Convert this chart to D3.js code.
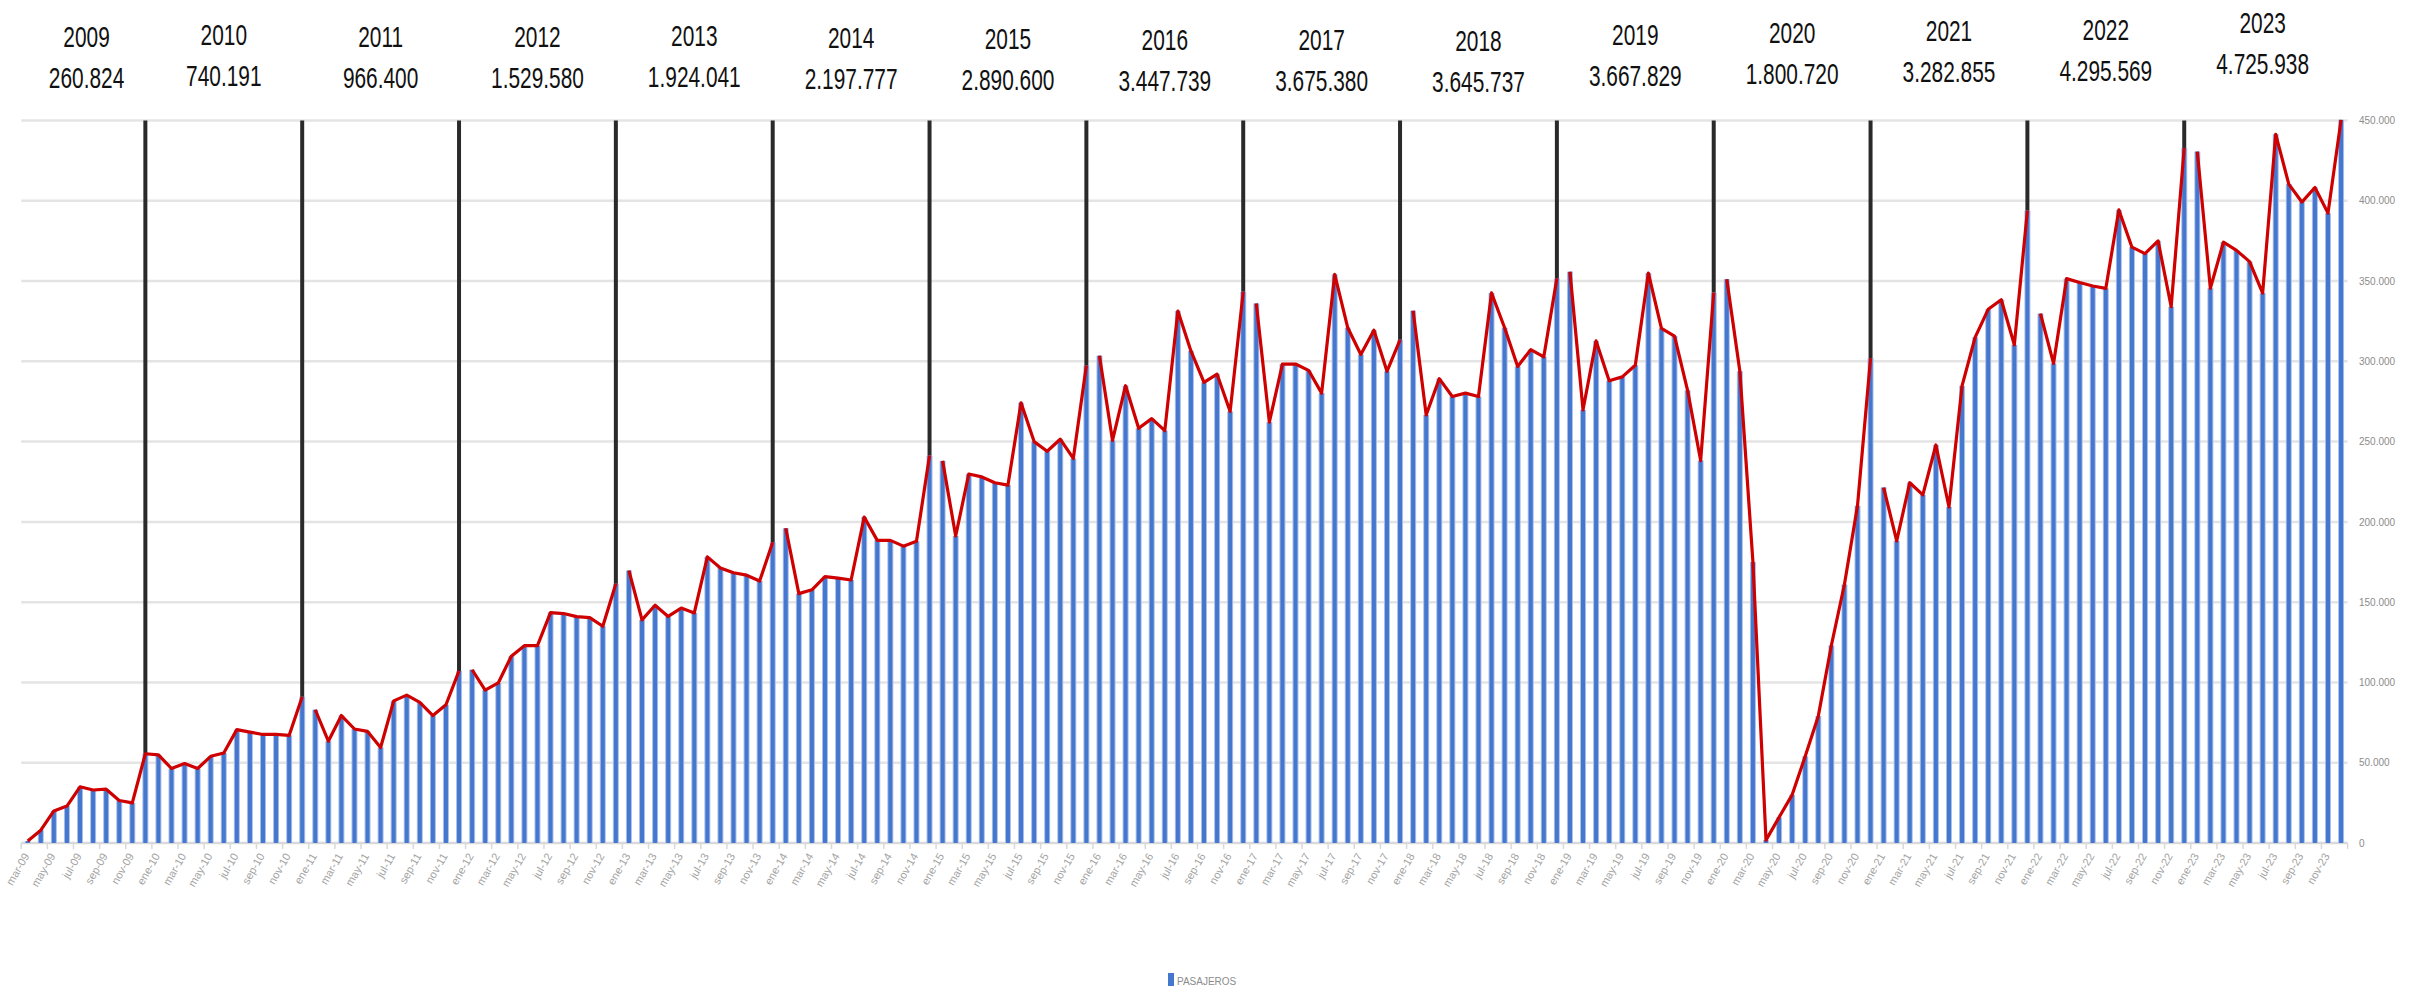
<!DOCTYPE html>
<html><head><meta charset="utf-8">
<script src="https://cdn.jsdelivr.net/npm/d3@7"></script>
<style>html,body{margin:0;padding:0;background:#fff;} svg{display:block;}</style>
</head><body>
<svg id="chart" width="2433" height="994"></svg>
<script>
// ---------------- DATA ----------------
const monthNames = ["ene","feb","mar","abr","may","jun","jul","ago","sep","oct","nov","dic"];
const years = [2009,2010,2011,2012,2013,2014,2015,2016,2017,2018,2019,2020,2021,2022,2023];
const firstMonthIndex2009 = 2; // data starts in "mar-09"
const pasajeros2009 = [1200, 8000, 20000, 23000, 35000, 33000, 33500, 26500, 25000, 55600];
const pasajeros2010 = [54900, 46400, 49500, 46400, 54000, 56100, 70600, 69100, 67600, 67600, 67000, 91100];
const pasajeros2011 = [83000, 63400, 79400, 71000, 69500, 59500, 88500, 92100, 87600, 79400, 86100, 107200];
const pasajeros2012 = [107900, 95200, 99700, 116300, 122900, 122900, 143500, 142900, 141000, 140400, 135000, 161500];
const pasajeros2013 = [169700, 139000, 148100, 141100, 146300, 143300, 178200, 171300, 168300, 166800, 163200, 187300];
const pasajeros2014 = [196000, 155300, 157700, 165900, 165000, 163800, 203000, 188500, 188500, 184900, 187900, 241300];
const pasajeros2015 = [238000, 191200, 229800, 228000, 224400, 222900, 274200, 250000, 244000, 251500, 239500, 297400];
const pasajeros2016 = [303500, 250700, 284800, 258300, 264300, 256800, 331300, 306500, 286900, 292000, 268800, 343300];
const pasajeros2017 = [336000, 262100, 298300, 298300, 294400, 280200, 354100, 320900, 304300, 319400, 293800, 313400];
const pasajeros2018 = [331500, 266600, 289200, 278100, 280200, 278100, 342600, 320900, 296800, 307300, 302800, 351700];
const pasajeros2019 = [355800, 269800, 312700, 287900, 290300, 297600, 354900, 320500, 315700, 281900, 238200, 342800];
const pasajeros2020 = [351100, 293800, 175000, 1800, 16000, 30000, 54000, 79000, 123000, 161000, 210000, 302000];
const pasajeros2021 = [221400, 188200, 224400, 216800, 247900, 209300, 284700, 314900, 332400, 338400, 310300, 393900];
const pasajeros2022 = [329700, 298700, 351500, 349100, 346900, 345400, 394300, 371100, 367100, 375000, 334000, 432900];
const pasajeros2023 = [430600, 345500, 374200, 369100, 362100, 342500, 441400, 410400, 399200, 408300, 392300, 450400];
const yearTotals = [260824, 740191, 966400, 1529580, 1924041, 2197777, 2890600, 3447739, 3675380, 3645737, 3667829, 1800720, 3282855, 4295569, 4725938];
const yTicks = [0, 50000, 100000, 150000, 200000, 250000, 300000, 350000, 400000, 450000];
const seriesName = "PASAJEROS";

// ---------------- LAYOUT ----------------
const W = 2433, H = 994;
const plotLeft = 21.2, plotRight = 2347.6, plotTop = 120.5, plotBottom = 843;
const headerYearBase = 47, headerTotalBase = 88;
const headerNudge = [0,-2,0,0,-1.5,1,1.5,3,3,4,-2,-4,-6,-7,-14];

const yearArrays = [pasajeros2009,pasajeros2010,pasajeros2011,pasajeros2012,pasajeros2013,pasajeros2014,pasajeros2015,pasajeros2016,pasajeros2017,pasajeros2018,pasajeros2019,pasajeros2020,pasajeros2021,pasajeros2022,pasajeros2023];
const data = [];
yearArrays.forEach((arr, k) => {
  const yr = years[k];
  const start = k === 0 ? firstMonthIndex2009 : 0;
  arr.forEach((v, j) => {
    const m = start + j;
    data.push({year: yr, m: m, label: monthNames[m] + "-" + String(yr).slice(2), value: v});
  });
});

const loc = d3.formatLocale({decimal: ",", thousands: ".", grouping: [3], currency: ["", ""]});
const fmt = loc.format(",d");

const svg = d3.select("#chart");
svg.append("rect").attr("width", W).attr("height", H).attr("fill", "#fff");

const x = d3.scaleBand().domain(data.map(d => d.label)).range([plotLeft, plotRight]).padding(0);
const y = d3.scaleLinear().domain([0, 450000]).range([plotBottom, plotTop]);
const step = x.step();
const cx = d => x(d.label) + step / 2;

// gridlines
svg.append("g").selectAll("line").data(yTicks).join("line")
  .attr("x1", plotLeft).attr("x2", plotRight)
  .attr("y1", d => y(d)).attr("y2", d => y(d))
  .attr("stroke", d => d === 0 ? "#d9d9d9" : "#e4e4e4").attr("stroke-width", 2.5);

// y axis labels (right)
const yAxis = d3.axisRight(y).tickValues(yTicks).tickSize(0).tickPadding(0).tickFormat(d => fmt(d));
const ya = svg.append("g").attr("transform", `translate(2359,0)`).call(yAxis);
ya.select(".domain").remove();
ya.selectAll("text").attr("font-family", "Liberation Sans, Arial, sans-serif").attr("font-size", 10).attr("fill", "#8c8c8c").attr("text-anchor", "start");

// x axis tick marks (every 2 months) + labels
const labelled = data.filter((d, i) => i % 2 === 0);
svg.append("g").selectAll("line").data(labelled.map(d => x(d.label)).concat([plotRight])).join("line")
  .attr("x1", d => d).attr("x2", d => d).attr("y1", plotBottom).attr("y2", plotBottom + 6)
  .attr("stroke", "#d9d9d9").attr("stroke-width", 1.5);
svg.append("g").selectAll("text").data(labelled).join("text")
  .attr("transform", d => `translate(${cx(d) + 2},${plotBottom + 13}) rotate(-60)`)
  .attr("text-anchor", "end")
  .attr("font-family", "Liberation Sans, Arial, sans-serif").attr("font-size", 11)
  .attr("fill", "#a3a3a3")
  .text(d => d.label);

// bars
const bars = svg.append("g");
bars.selectAll("rect.o").data(data).join("rect").attr("class", "o")
  .attr("x", d => cx(d) - 3).attr("width", 6)
  .attr("y", d => y(d.value)).attr("height", d => y(0) - y(d.value))
  .attr("fill", "#a9c0ea");
bars.selectAll("rect.i").data(data).join("rect").attr("class", "i")
  .attr("x", d => cx(d) - 2).attr("width", 4)
  .attr("y", d => y(d.value)).attr("height", d => y(0) - y(d.value))
  .attr("fill", "#4677cf");

// black year separators at each December (except last)
const decs = data.filter(d => d.m === 11 && d.year < 2023);
svg.append("g").selectAll("line").data(decs).join("line")
  .attr("x1", d => cx(d)).attr("x2", d => cx(d))
  .attr("y1", y(450000)).attr("y2", d => y(d.value))
  .attr("stroke", "#2a2a2a").attr("stroke-width", 4);

// red line, drawn per year (2009 joined to 2010)
const segments = [];
years.forEach(yr => {
  const seg = data.filter(d => d.year === yr);
  if (yr === 2010) segments[segments.length - 1] = segments[segments.length - 1].concat(seg);
  else segments.push(seg);
});
const line = d3.line().x(cx).y(d => y(d.value));
svg.append("g").selectAll("path").data(segments).join("path")
  .attr("d", line).attr("fill", "none").attr("stroke", "#cf0000").attr("stroke-width", 3.2)
  .attr("stroke-linejoin", "round");

// year headers
const hx = years.map((yr, k) => {
  const yd = data.filter(d => d.year === yr);
  if (k === 0) return (cx(yd[0]) + cx(yd[yd.length - 1])) / 2;
  const prevDec = data.find(d => d.year === yr - 1 && d.m === 11);
  return (cx(prevDec) + cx(yd[yd.length - 1])) / 2;
});
const hg = svg.append("g").attr("font-family", "Liberation Sans, Arial, sans-serif").attr("fill", "#111");
years.forEach((yr, k) => {
  hg.append("text").attr("transform", `translate(${hx[k]},${headerYearBase + headerNudge[k]}) scale(0.72,1)`)
    .attr("text-anchor", "middle").attr("font-size", 29).text(yr);
  hg.append("text").attr("transform", `translate(${hx[k]},${headerTotalBase + headerNudge[k]}) scale(0.72,1)`)
    .attr("text-anchor", "middle").attr("font-size", 29).text(fmt(yearTotals[k]));
});

// legend
svg.append("rect").attr("x", 1168).attr("y", 973).attr("width", 6).attr("height", 13).attr("fill", "#4677cf");
svg.append("text").attr("x", 1177).attr("y", 985).attr("font-family", "Liberation Sans, Arial, sans-serif")
  .attr("font-size", 10).attr("fill", "#8c8c8c").text(seriesName);
</script>
</body></html>
